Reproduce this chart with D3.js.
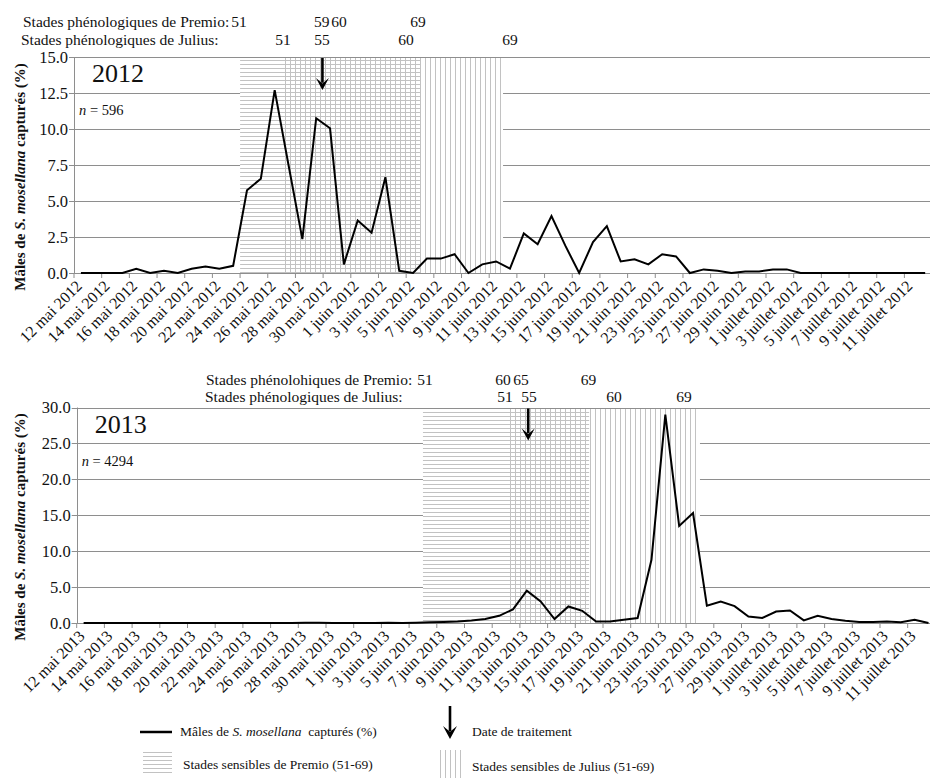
<!DOCTYPE html>
<html><head><meta charset="utf-8">
<script src="https://cdn.jsdelivr.net/npm/d3@7"></script>
<style>
body{margin:0;background:#fff}
svg text{font-family:"Liberation Serif","Times New Roman","DejaVu Serif",serif;fill:#111}
</style>
</head><body>
<svg id="c" width="930" height="780" font-family="Liberation Serif, Times New Roman, DejaVu Serif, serif"></svg>
<script>
// ---------- DATA ----------
const values2012 = [0,0,0,0,0.3,0,0.15,0,0.3,0.45,0.3,0.5,
  5.75,6.55,12.7,7.5,2.35,10.75,10.05,0.6,3.65,2.8,6.65,
  0.15,0,1.0,1.0,1.3,0,0.6,0.8,0.3,
  2.75,2.0,3.95,1.9,0,2.15,3.25,
  0.8,0.95,0.6,1.3,1.15,0,0.25,0.15,
  0,0.1,0.1,0.25,0.25,
  0,0,0,0,0,0,0,0,0,0];
const values2013 = [0,0,0,0,0,0,0,0,0,0,0,0,0,0,0,0,
  0.05,0.05,0,0,0,0,0.05,0,0.05,0.1,
  0.15,0.2,0.35,0.55,1.0,1.9,4.5,3.0,0.55,2.3,1.7,0.2,0.2,0.45,0.7,
  8.8,29.0,13.5,15.3,2.4,3.0,2.35,0.9,0.7,1.6,1.75,0.37,1.0,0.55,0.3,
  0.15,0.15,0.2,0.12,0.45,0];
const tickLabels2012 = ["12 mai 2012","14 mai 2012","16 mai 2012","18 mai 2012","20 mai 2012","22 mai 2012","24 mai 2012","26 mai 2012","28 mai 2012","30 mai 2012","1 juin 2012","3 juin 2012","5 juin 2012","7 juin 2012","9 juin 2012","11 juin 2012","13 juin 2012","15 juin 2012","17 juin 2012","19 juin 2012","21 juin 2012","23 juin 2012","25 juin 2012","27 juin 2012","29 juin 2012","1 juillet 2012","3 juillet 2012","5 juillet 2012","7 juillet 2012","9 juillet 2012","11 juillet 2012"];
const tickLabels2013 = ["12 mai 2013","14 mai 2013","16 mai 2013","18 mai 2013","20 mai 2013","22 mai 2013","24 mai 2013","26 mai 2013","28 mai 2013","30 mai 2013","1 juin 2013","3 juin 2013","5 juin 2013","7 juin 2013","9 juin 2013","11 juin 2013","13 juin 2013","15 juin 2013","17 juin 2013","19 juin 2013","21 juin 2013","23 juin 2013","25 juin 2013","27 juin 2013","29 juin 2013","1 juillet 2013","3 juillet 2013","5 juillet 2013","7 juillet 2013","9 juillet 2013","11 juillet 2013"];
const yTicks2012 = [0,2.5,5,7.5,10,12.5,15];
const yTicks2013 = [0,5,10,15,20,25,30];
// sensitive periods (first and last day, inclusive)
const premio2012 = ["2012-05-24","2012-06-05"];
const julius2012 = ["2012-05-27","2012-06-11"];
const premio2013 = ["2013-06-06","2013-06-17"];
const julius2013 = ["2013-06-12","2013-06-25"];
// treatment date, in days from first day of series
const treat2012 = 17.95;
const treat2013 = 32.6;
// phenological stage labels: stage, position in days from first day
const stagesPremio2012 = [["51",11.92],["59",17.9],["60",19.15],["69",24.86]];
const stagesJulius2012 = [["51",15.1],["55",17.92],["60",23.99],["69",31.5]];
const stagesPremio2013 = [["51",25.15],["60",30.78],["65",32.08],["69",36.95]];
const stagesJulius2013 = [["51",30.92],["55",32.66],["60",38.8],["69",43.85]];

// ---------- DRAW ----------
const FONT = '"Liberation Serif","Times New Roman","DejaVu Serif",serif';
const svg = d3.select('#c');
const defs = svg.append('defs');
const hatchCol = '#c2c2c2';
const pH = defs.append('pattern').attr('id','hatchH').attr('patternUnits','userSpaceOnUse')
  .attr('width',8).attr('height',4);
pH.append('line').attr('x1',0).attr('x2',8).attr('y1',0.5).attr('y2',0.5)
  .attr('stroke',hatchCol).attr('stroke-width',1);
const pV = defs.append('pattern').attr('id','hatchV').attr('patternUnits','userSpaceOnUse')
  .attr('width',5).attr('height',8);
pV.append('line').attr('y1',0).attr('y2',8).attr('x1',0.5).attr('x2',0.5)
  .attr('stroke',hatchCol).attr('stroke-width',1);

const parse = d3.timeParse('%Y-%m-%d');
const gridCol = '#8e8e8e';

function txt(g) { return g.append('text').style('font-family', FONT); }

function arrow(g, x, y0, y1, hw, hh) {
  g.append('line').attr('x1',x).attr('x2',x).attr('y1',y0).attr('y2',y1-hh*0.6)
    .attr('stroke','#000').attr('stroke-width',2.6);
  g.append('path').attr('d',`M${x-hw},${y1-hh} L${x},${y1} L${x+hw},${y1-hh} L${x},${y1-hh*0.55} Z`)
    .attr('fill','#000');
}

const panels = [
  {year:'2012', n:'596', values:values2012, ticks:tickLabels2012, yTicks:yTicks2012, yMax:15,
   start:'2012-05-12', premio:premio2012, julius:julius2012, treat:treat2012,
   stP:stagesPremio2012, stJ:stagesJulius2012, premioTitle:'Stades phénologiques de Premio:',
   left:74, step:13.84, top:57, bottom:273, hdrXP:23, hdrXJ:21, hdrY1:27, hdrY2:45, titleY:177},
  {year:'2013', n:'4294', values:values2013, ticks:tickLabels2013, yTicks:yTicks2013, yMax:30,
   start:'2013-05-12', premio:premio2013, julius:julius2013, treat:treat2013,
   stP:stagesPremio2013, stJ:stagesJulius2013, premioTitle:'Stades phénolohiques de Premio:',
   left:76.7, step:13.85, top:407.5, bottom:623, hdrXP:206, hdrXJ:205, hdrY1:385, hdrY2:402, titleY:527}
];

panels.forEach(p => {
  const g = svg.append('g');
  const nDays = p.values.length;
  const x = d3.scaleLinear().domain([0, nDays]).range([p.left, p.left + nDays*p.step]);
  const y = d3.scaleLinear().domain([0, p.yMax]).range([p.bottom, p.top]);
  const s0 = parse(p.start);
  const idx = s => d3.timeDay.count(s0, parse(s));

  // gridlines
  g.selectAll('.grid').data(p.yTicks).join('line')
    .attr('x1', p.left-5).attr('x2', 930)
    .attr('y1', d => Math.round(y(d))+0.5).attr('y2', d => Math.round(y(d))+0.5)
    .attr('stroke', gridCol).attr('stroke-width',1);

  // sensitive periods
  const pa = idx(p.premio[0]), pb = idx(p.premio[1])+1;
  const ja = idx(p.julius[0]), jb = idx(p.julius[1])+1;
  const ua = Math.min(pa,ja), ub = Math.max(pb,jb);
  const yt = Math.round(y(p.yMax))+1, yb = Math.round(y(0));
  g.append('rect').attr('x', x(ua)).attr('width', x(ub)-x(ua)).attr('y', yt).attr('height', yb-yt).attr('fill','#fff');
  g.append('rect').attr('x', x(pa)).attr('width', x(pb)-x(pa)).attr('y', yt).attr('height', yb-yt).attr('fill','url(#hatchH)');
  g.append('rect').attr('x', x(ja)).attr('width', x(jb)-x(ja)).attr('y', yt).attr('height', yb-yt).attr('fill','url(#hatchV)');

  // axes lines
  g.append('line').attr('x1', Math.round(p.left)+0.5).attr('x2', Math.round(p.left)+0.5)
    .attr('y1', y(p.yMax)).attr('y2', y(0)).attr('stroke', gridCol);
  g.append('line').attr('x1', p.left-5).attr('x2', 930)
    .attr('y1', Math.round(y(0))+0.5).attr('y2', Math.round(y(0))+0.5).attr('stroke', gridCol);
  // x ticks every 2 days
  const tickIdx = d3.range(0, nDays+1, 2);
  g.selectAll('.xt').data(tickIdx).join('line')
    .attr('x1', d => x(d)).attr('x2', d => x(d))
    .attr('y1', y(0)).attr('y2', y(0)+5).attr('stroke', gridCol);
  // x labels
  g.selectAll('.xl').data(p.ticks).join('text').style('font-family', FONT)
    .attr('text-anchor','end').attr('font-size',16)
    .attr('transform', (d,i) => `translate(${x(2*i+0.5)+2},${y(0)+14}) rotate(-45)`)
    .text(d => d);
  // y labels
  g.selectAll('.yl').data(p.yTicks).join('text').style('font-family', FONT)
    .attr('text-anchor','end').attr('font-size',16.5)
    .attr('x', p.left-6).attr('y', d => y(d)).attr('dy','0.35em')
    .text(d => d3.format('.1f')(d));
  // y title
  const tt = txt(g).attr('text-anchor','middle').attr('font-size',15).attr('font-weight','bold')
    .attr('transform', `translate(25,${p.titleY}) rotate(-90)`);
  tt.append('tspan').text('Mâles de ');
  tt.append('tspan').attr('font-style','italic').text('S. mosellana');
  tt.append('tspan').text(' capturés (%)');

  // data line
  const line = d3.line().x((d,i) => x(i+0.5)).y(d => y(d));
  g.append('path').datum(p.values).attr('d', line)
    .attr('fill','none').attr('stroke','#000').attr('stroke-width',2).attr('stroke-linejoin','miter');

  // treatment arrow
  arrow(g, x(p.treat), y(p.yMax)+1, y(p.yMax)+33, 6.5, 12);

  // year and n
  txt(g).attr('x', p.left+18).attr('y', p.top+25).attr('font-size',26).text(p.year);
  const nt = txt(g).attr('x', p.left+5).attr('y', p.top+58).attr('font-size',14.5);
  nt.append('tspan').attr('font-style','italic').text('n');
  nt.append('tspan').text(' = ' + p.n);

  // phenological headers
  txt(g).attr('x', p.hdrXP).attr('y', p.hdrY1).attr('font-size',15.5).text(p.premioTitle);
  txt(g).attr('x', p.hdrXJ).attr('y', p.hdrY2).attr('font-size',15.5).text('Stades phénologiques de Julius:');
  g.selectAll('.sp').data(p.stP).join('text').style('font-family', FONT).attr('text-anchor','middle').attr('font-size',15.5)
    .attr('x', d => x(d[1])).attr('y', p.hdrY1).text(d => d[0]);
  g.selectAll('.sj').data(p.stJ).join('text').style('font-family', FONT).attr('text-anchor','middle').attr('font-size',15.5)
    .attr('x', d => x(d[1])).attr('y', p.hdrY2).text(d => d[0]);
});

// ---------- LEGEND ----------
const lg = svg.append('g');
lg.append('line').attr('x1',140).attr('x2',172).attr('y1',732).attr('y2',732).attr('stroke','#000').attr('stroke-width',2.5);
const lt = txt(lg).attr('x',180).attr('y',736).attr('font-size',13.5).attr('xml:space','preserve');
lt.append('tspan').text('Mâles de ');
lt.append('tspan').attr('font-style','italic').text('S. mosellana');
lt.append('tspan').text('  capturés (%)');
arrow(lg, 450, 706, 739, 7, 13);
txt(lg).attr('x',472).attr('y',736).attr('font-size',13.5).text('Date de traitement');
lg.append('rect').attr('x',143).attr('y',751).attr('width',29).attr('height',25).attr('fill','url(#hatchH)');
txt(lg).attr('x',183).attr('y',769).attr('font-size',13.5).text('Stades sensibles de Premio (51-69)');
lg.append('rect').attr('x',438).attr('y',750).attr('width',25).attr('height',28).attr('fill','url(#hatchV)');
txt(lg).attr('x',472).attr('y',771).attr('font-size',13.5).text('Stades sensibles de Julius (51-69)');
</script>
</body></html>
